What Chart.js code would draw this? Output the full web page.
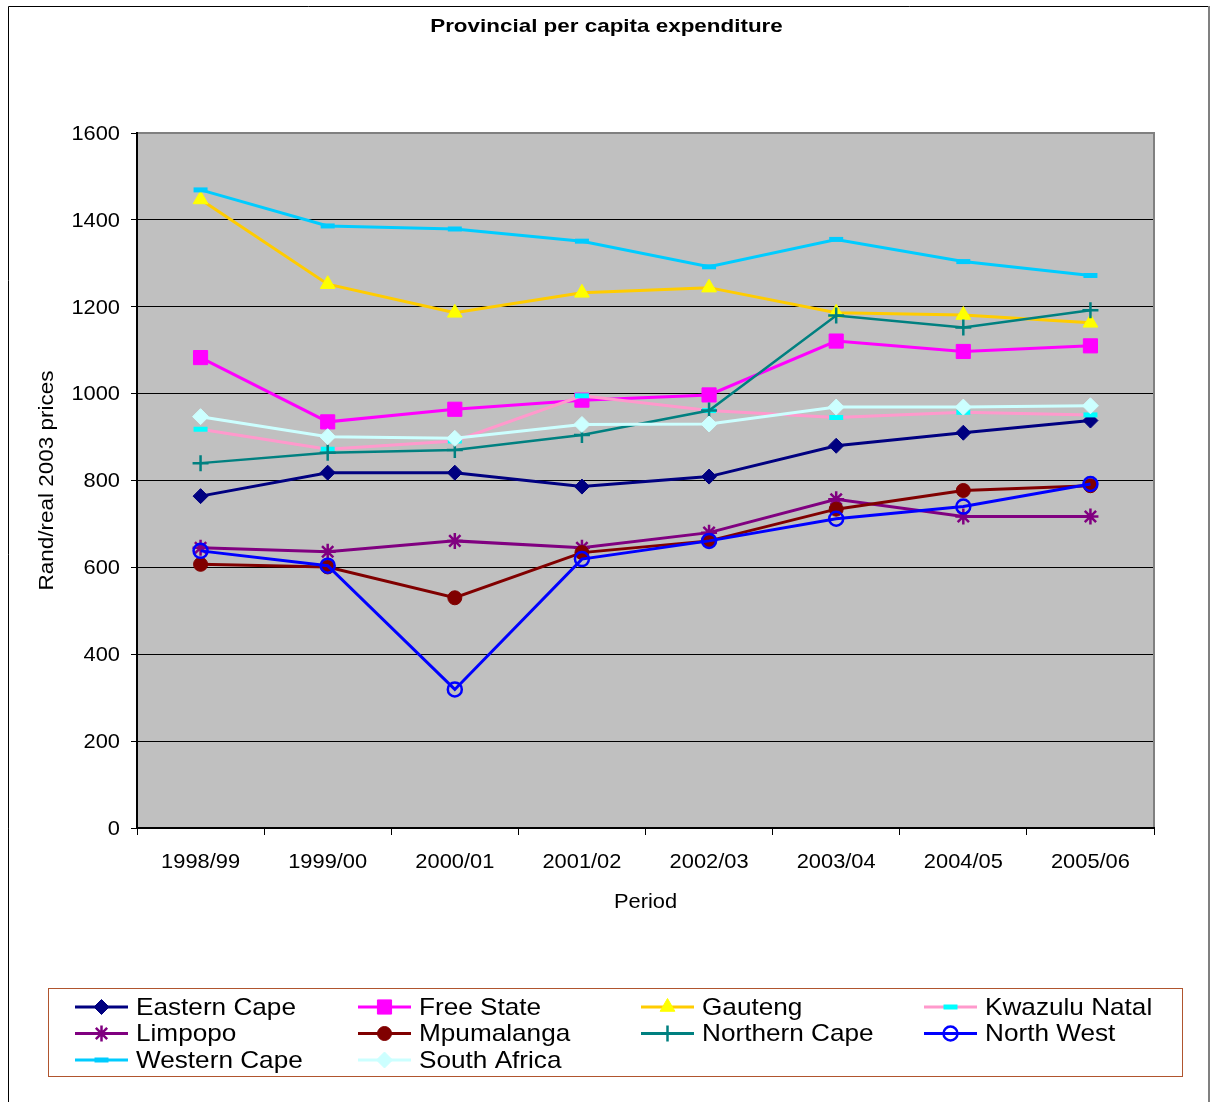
<!DOCTYPE html>
<html>
<head>
<meta charset="utf-8">
<script src="https://cdn.jsdelivr.net/npm/chart.js@4.4.0/dist/chart.umd.min.js"></script>
<style>
html, body { margin: 0; padding: 0; background: #fff; }
#wrap { width: 1211px; height: 1102px; }
</style>
</head>
<body>
<div id="wrap"><canvas id="chart" width="1211" height="1102"></canvas></div>
<script>
// periods and axis ticks
const categories = ["1998/99", "1999/00", "2000/01", "2001/02", "2002/03", "2003/04", "2004/05", "2005/06"];
const yTicks = [0, 200, 400, 600, 800, 1000, 1200, 1400, 1600];

// series
const easternCape  = [764, 818, 818, 786, 809, 880, 910, 938];
const freeState    = [1083, 935, 964, 985, 997, 1121, 1097, 1110];
const gauteng      = [1447, 1252, 1186, 1232, 1244, 1186, 1181, 1163];
const kwazuluNatal = [918, 872, 891, 995, 961, 945, 957, 951];
const limpopo      = [645, 636, 661, 645, 680, 757, 717, 717];
const mpumalanga   = [607, 601, 530, 634, 661, 734, 777, 788];
const northernCape = [840, 864, 870, 905, 961, 1180, 1152, 1192];
const northWest    = [638, 604, 319, 619, 661, 712, 740, 792];
const westernCape  = [1469, 1386, 1379, 1351, 1292, 1355, 1304, 1272];
const southAfrica  = [947, 901, 897, 929, 930, 969, 969, 972];

const seriesNames = ["Eastern Cape", "Free State", "Gauteng", "Kwazulu Natal", "Limpopo",
                     "Mpumalanga", "Northern Cape", "North West", "Western Cape", "South Africa"];
const seriesData = [easternCape, freeState, gauteng, kwazuluNatal, limpopo,
                    mpumalanga, northernCape, northWest, westernCape, southAfrica];

// line colour, marker shape, marker fill, marker border, radius, marker border width
const looks = [
    { line: "#000080", style: "rectRot",  fill: "#000080", edge: "#000080", r: 7.5, bw: 1 },
    { line: "#FF00FF", style: "rect",     fill: "#FF00FF", edge: "#FF00FF", r: 10,  bw: 1 },
    { line: "#FFCC00", style: "triangle", fill: "#FFFF00", edge: "#FFFF00", r: 8.5, bw: 1 },
    { line: "#FF99CC", style: "line",     fill: "#00FFFF", edge: "#00FFFF", r: 7,   bw: 5 },
    { line: "#800080", style: "star",     fill: "#800080", edge: "#800080", r: 8,   bw: 2.5 },
    { line: "#800000", style: "circle",   fill: "#800000", edge: "#800000", r: 7,   bw: 1 },
    { line: "#008080", style: "cross",    fill: "#008080", edge: "#008080", r: 8,   bw: 2.5 },
    { line: "#0000FF", style: "circle",   fill: "rgba(0,0,0,0)", edge: "#0000FF", r: 7, bw: 2.5 },
    { line: "#00CCFF", style: "line",     fill: "#00CCFF", edge: "#00CCFF", r: 7,   bw: 5 },
    { line: "#CCFFFF", style: "rectRot",  fill: "#CCFFFF", edge: "#CCFFFF", r: 8,   bw: 1 }
];

const FONT = '"Liberation Sans", Arial, sans-serif';

// text with a bit of horizontal stretch like the original export
function stretchText(ctx, txt, x, y, font, sx, align, rot) {
    ctx.save();
    ctx.translate(x, y);
    if (rot) ctx.rotate(rot);
    ctx.scale(sx, 1);
    ctx.font = font;
    ctx.fillStyle = "#000";
    ctx.textAlign = align;
    ctx.textBaseline = "middle";
    ctx.fillText(txt, 0, 0);
    ctx.restore();
}

const decor = {
    id: "decor",
    beforeDraw(chart) {
        const { ctx, chartArea: a } = chart;
        ctx.save();
        ctx.fillStyle = "#fff";
        ctx.fillRect(0, 0, chart.width, chart.height);
        ctx.fillStyle = "#C0C0C0";
        ctx.fillRect(a.left, a.top, a.right - a.left, a.bottom - a.top);
        // outer frame
        ctx.strokeStyle = "#000";
        ctx.lineWidth = 1;
        ctx.beginPath();
        ctx.moveTo(8.5, 1102);
        ctx.lineTo(8.5, 6.5);
        ctx.lineTo(1209.5, 6.5);
        ctx.stroke();
        ctx.strokeStyle = "#808080";
        ctx.lineWidth = 2;
        ctx.beginPath();
        ctx.moveTo(1209, 6);
        ctx.lineTo(1209, 1102);
        ctx.stroke();
        ctx.restore();
    },
    beforeDatasetsDraw(chart) {
        const { ctx, chartArea: a } = chart;
        ctx.save();
        ctx.strokeStyle = "#808080";
        ctx.lineWidth = 2;
        ctx.beginPath();
        ctx.moveTo(a.left + 1, a.top);
        ctx.lineTo(a.right, a.top);
        ctx.lineTo(a.right, a.bottom - 1);
        ctx.stroke();
        ctx.restore();
    },
    afterDraw(chart) {
        const { ctx, chartArea: a, scales } = chart;
        const xs = scales.x, ys = scales.y;

        stretchText(ctx, "Provincial per capita expenditure", (a.left + a.right) / 2 - 39, 27,
            "bold 19px " + FONT, 1.18, "center");

        yTicks.forEach(v => {
            stretchText(ctx, String(v), 120, ys.getPixelForValue(v) + 1, "21px " + FONT, 1.04, "right");
        });
        categories.forEach((c, i) => {
            stretchText(ctx, c, xs.getPixelForValue(i), 862, "21px " + FONT, 1.04, "center");
        });
        stretchText(ctx, "Period", (a.left + a.right) / 2, 902, "21px " + FONT, 1.04, "center");
        stretchText(ctx, "Rand/real 2003 prices", 47, (a.top + a.bottom) / 2, "21px " + FONT, 1.07, "center", -Math.PI / 2);

        // legend box
        ctx.save();
        ctx.strokeStyle = "#B0552E";
        ctx.lineWidth = 1;
        ctx.strokeRect(48.5, 988.5, 1134, 88);
        ctx.restore();

        seriesNames.forEach((name, i) => {
            const col = i % 4, row = Math.floor(i / 4);
            const tx = 136 + col * 283;
            const ty = 1007 + row * 26.5;
            const lk = looks[i];
            ctx.save();
            ctx.strokeStyle = lk.line;
            ctx.lineWidth = 3;
            ctx.beginPath();
            ctx.moveTo(tx - 61, ty);
            ctx.lineTo(tx - 8, ty);
            ctx.stroke();
            ctx.fillStyle = lk.fill;
            ctx.strokeStyle = lk.edge;
            ctx.lineWidth = lk.bw;
            Chart.helpers.drawPoint(ctx, { pointStyle: lk.style, radius: lk.r, rotation: 0, borderWidth: lk.bw }, tx - 34.5, ty);
            ctx.restore();
            stretchText(ctx, name, tx, ty + 1, "24px " + FONT, 1.09, "left");
        });
    }
};

const datasets = seriesNames.map((name, i) => {
    const lk = looks[i];
    return {
        label: name,
        data: seriesData[i],
        borderColor: lk.line,
        borderWidth: i === 6 ? 2.5 : 3,
        pointStyle: lk.style,
        pointRadius: lk.r,
        pointBackgroundColor: lk.fill,
        pointBorderColor: lk.edge,
        pointBorderWidth: lk.bw,
        tension: 0,
        fill: false,
        order: seriesNames.length - i
    };
});

new Chart(document.getElementById("chart"), {
    type: "line",
    data: { labels: categories, datasets },
    options: {
        responsive: false,
        animation: false,
        layout: { padding: { left: 131, top: 133, right: 57, bottom: 267 } },
        plugins: { legend: { display: false }, title: { display: false }, tooltip: { enabled: false } },
        scales: {
            x: {
                offset: true,
                grid: { drawOnChartArea: false, drawTicks: true, tickLength: 7, offset: true, color: "#000", lineWidth: 1 },
                border: { display: true, color: "#000", width: 2 },
                ticks: { display: false },
                afterFit(s) { s.height = 7; }
            },
            y: {
                min: 0,
                max: 1600,
                ticks: { stepSize: 200, display: false },
                grid: { color: "#000", lineWidth: 1, tickLength: 6 },
                border: { display: true, color: "#000", width: 2 },
                afterFit(s) { s.width = 6; }
            }
        }
    },
    plugins: [decor]
});
</script>
</body>
</html>
